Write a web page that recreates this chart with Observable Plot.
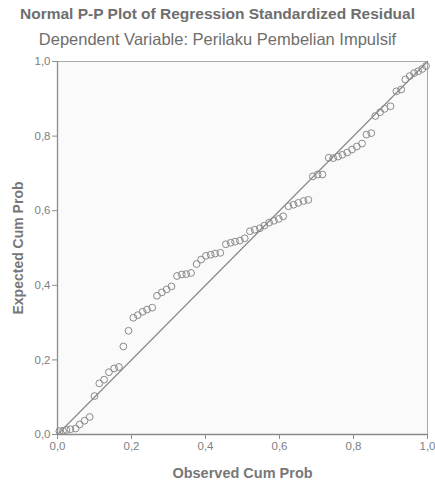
<!DOCTYPE html>
<html>
<head>
<meta charset="utf-8">
<script src="https://cdn.jsdelivr.net/npm/d3@7"></script>
<script src="https://cdn.jsdelivr.net/npm/@observablehq/plot@0.6"></script>
<style>
  html, body { margin: 0; padding: 0; background: #ffffff; }
  body { width: 435px; height: 481px; position: relative; overflow: hidden; font-family: "Liberation Sans", Arial, sans-serif; }
  #title { position: absolute; left: 0; width: 435px; top: 4px; text-align: center; font-size: 15.5px; font-weight: bold; color: #6e6e6e; line-height: 20px; white-space: nowrap; }
  #subtitle { position: absolute; left: 0; width: 435px; top: 29px; text-align: center; font-size: 16.5px; color: #6e6e6e; line-height: 20px; white-space: nowrap; }
  #chart { position: absolute; left: 0; top: 52px; }
</style>
</head>
<body>
<div id="title"></div>
<div id="subtitle"></div>
<div id="chart"></div>
<script>
const titleText = "Normal P-P Plot of Regression Standardized Residual";
const subtitleText = "Dependent Variable: Perilaku Pembelian Impulsif";
const xLabel = "Observed Cum Prob";
const yLabel = "Expected Cum Prob";
const tickValues = [0, 0.2, 0.4, 0.6, 0.8, 1.0];
const refLine = [0, 1];

const observed = [
  0.005, 0.015, 0.024, 0.035, 0.049, 0.060, 0.073, 0.087, 0.100, 0.113,
  0.126, 0.139, 0.153, 0.166, 0.178, 0.192, 0.205, 0.217, 0.230, 0.242,
  0.256, 0.269, 0.282, 0.295, 0.308, 0.323, 0.336, 0.348, 0.361, 0.376,
  0.388, 0.401, 0.414, 0.426, 0.440, 0.455, 0.468, 0.480, 0.493, 0.506,
  0.520, 0.533, 0.547, 0.559, 0.572, 0.585, 0.598, 0.610, 0.624, 0.638,
  0.651, 0.665, 0.678, 0.690, 0.703, 0.716, 0.733, 0.745, 0.758, 0.770,
  0.783, 0.796, 0.809, 0.823, 0.835, 0.848, 0.859, 0.872, 0.884, 0.900,
  0.916, 0.929, 0.940, 0.952, 0.964, 0.975, 0.986, 0.996
];
const expected = [
  0.009, 0.010, 0.012, 0.014, 0.016, 0.027, 0.037, 0.047, 0.103, 0.137,
  0.147, 0.167, 0.177, 0.181, 0.236, 0.278, 0.313, 0.320, 0.329, 0.335,
  0.340, 0.372, 0.381, 0.389, 0.397, 0.425, 0.429, 0.430, 0.433, 0.457,
  0.469, 0.479, 0.482, 0.485, 0.487, 0.510, 0.514, 0.517, 0.520, 0.526,
  0.545, 0.549, 0.553, 0.560, 0.568, 0.573, 0.578, 0.585, 0.612, 0.616,
  0.621, 0.626, 0.629, 0.692, 0.697, 0.697, 0.742, 0.741, 0.745, 0.750,
  0.756, 0.764, 0.772, 0.780, 0.804, 0.808, 0.854, 0.864, 0.873, 0.880,
  0.920, 0.925, 0.952, 0.961, 0.969, 0.974, 0.980, 0.988
];

document.getElementById("title").textContent = titleText;
document.getElementById("subtitle").textContent = subtitleText;

const points = observed.map((o, i) => ({observed: o, expected: expected[i]}));
const fmt = d => d.toFixed(1).replace(".", ",");

const chart = Plot.plot({
  width: 435,
  height: 429,
  marginTop: 9,
  marginBottom: 47,
  marginLeft: 57,
  marginRight: 8,
  style: { fontFamily: "'Liberation Sans', Arial, sans-serif", fontSize: "11px", color: "#777", background: "transparent" },
  x: { domain: [0, 1] },
  y: { domain: [0, 1] },
  marks: [
    Plot.frame({ fill: "#fafafa", stroke: "#a8a8a8" }),
    Plot.ruleX([0], { stroke: "#8c8c8c", strokeWidth: 1.3 }),
    Plot.ruleY([0], { stroke: "#8c8c8c", strokeWidth: 1.3 }),
    Plot.axisX({ ticks: tickValues, tickFormat: fmt, tickSize: 5, tickPadding: 2, stroke: "#8c8c8c", fill: "#808080", label: null, fontSize: 11.5 }),
    Plot.axisY({ ticks: tickValues, tickFormat: fmt, tickSize: 5, tickPadding: 2, stroke: "#8c8c8c", fill: "#808080", label: null, fontSize: 11.5 }),
    Plot.line(refLine.map(v => ({x: v, y: v})), { x: "x", y: "y", stroke: "#8a8a8a", strokeWidth: 1.2 }),
    Plot.dot(points, { x: "observed", y: "expected", r: 3.4, stroke: "#8a8a8a", strokeWidth: 1, fill: "none" }),
    Plot.text([xLabel], { x: 0.5, frameAnchor: "bottom", textAnchor: "middle", dy: 43, fontSize: 14.5, fontWeight: "bold", fill: "#777" }),
    Plot.text([yLabel], { y: 0.5, frameAnchor: "left", textAnchor: "middle", dx: -39, rotate: -90, fontSize: 14, fontWeight: "bold", fill: "#777" })
  ]
});
document.getElementById("chart").appendChild(chart);
</script>
</body>
</html>
